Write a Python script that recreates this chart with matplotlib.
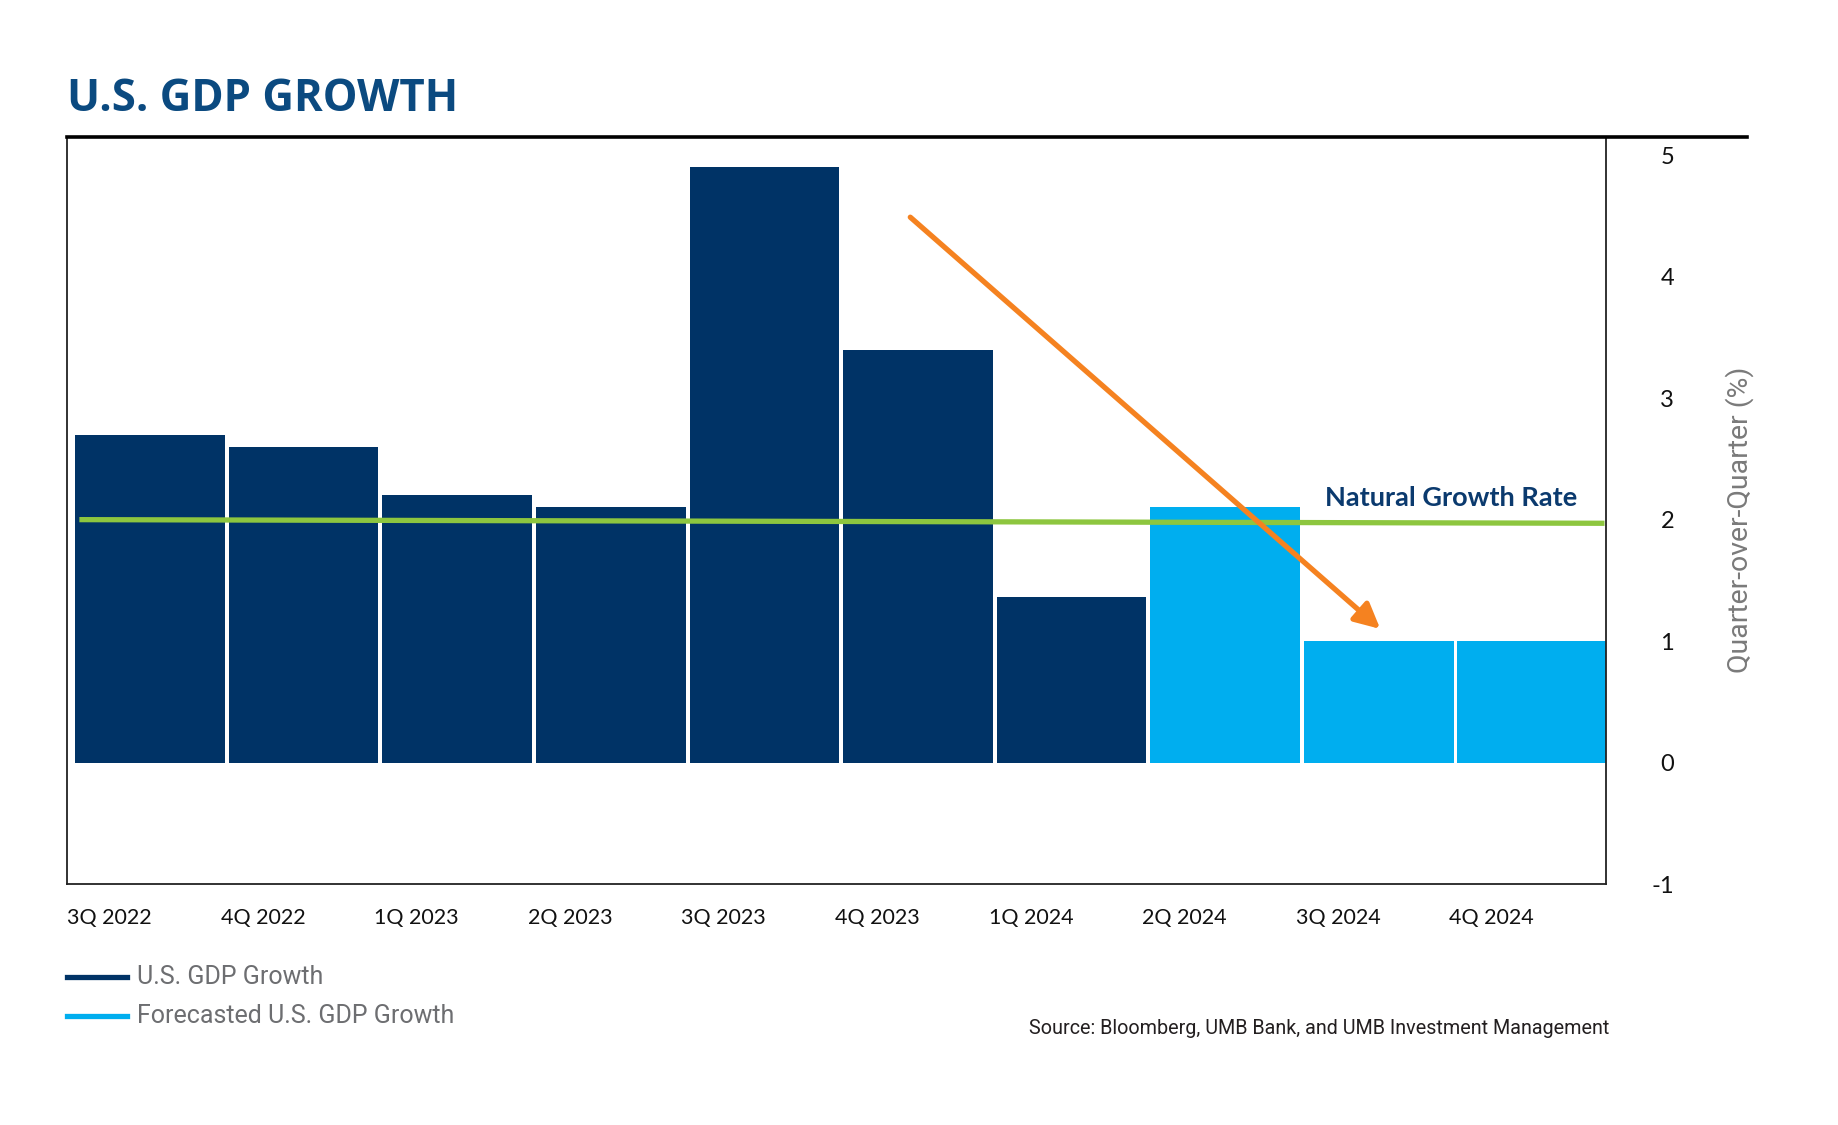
import matplotlib
matplotlib.use("Agg")
import matplotlib.pyplot as plt
import numpy as np
from matplotlib.lines import Line2D

# ---- data ----
quarters = ["3Q 2022", "4Q 2022", "1Q 2023", "2Q 2023", "3Q 2023",
            "4Q 2023", "1Q 2024", "2Q 2024", "3Q 2024", "4Q 2024"]
gdp_growth = [2.7, 2.6, 2.2, 2.1, 4.9, 3.4, 1.36, 2.1, 1.0, 1.0]
is_forecast = [False, False, False, False, False, False, False, True, True, True]
natural_rate = [2.0, 1.97]   # start / end of the natural growth rate line
y_ticks = [-1, 0, 1, 2, 3, 4, 5]

NAVY = "#003366"
LIGHT = "#00AEEF"
GREEN = "#8DC63F"
ORANGE = "#F58220"
TITLE_C = "#0B4A80"
GRAY = "#6D6E71"

fig = plt.figure(figsize=(18.38, 11.25), dpi=100)
ax = fig.add_axes([0.0365, 0.2142, 0.8373, 0.664])

x = np.arange(len(quarters))
colors = [LIGHT if f else NAVY for f in is_forecast]
ax.bar(x, gdp_growth, width=0.975, color=colors, edgecolor="none", zorder=2)

ax.set_xlim(-0.517, 9.48)
ax.set_ylim(-1.0, 5.15)

# natural growth rate line
ax.plot([x[0] - 0.46, x[-1] + 0.47], natural_rate, color=GREEN, lw=3.8,
        solid_capstyle="butt", zorder=3)
ax.text(8.47, 2.18, "Natural Growth Rate", color="#0B3A6E", fontsize=19.5,
        fontfamily="Lato", fontweight="bold", ha="center", va="center", zorder=4)

# orange trend arrow
ax.annotate("", xy=(8.01, 1.10), xytext=(4.95, 4.49),
            arrowprops=dict(arrowstyle="-|>", color=ORANGE, lw=3.8,
                            mutation_scale=38, shrinkA=0, shrinkB=0),
            zorder=5)

# axes styling
for s in ["left", "bottom", "right"]:
    ax.spines[s].set_color("#222222")
    ax.spines[s].set_linewidth(1.3)
ax.spines["top"].set_visible(False)

ax.yaxis.tick_right()
ax.set_yticks(y_ticks)
ax.set_yticklabels([str(v) for v in y_ticks], fontsize=17, fontfamily="Lato",
                   color="#111111")
for lab in ax.get_yticklabels():
    lab.set_horizontalalignment("right")
ax.tick_params(axis="y", length=0, pad=49)

ax.set_xticks(x - 0.54)
ax.set_xticklabels(quarters, fontsize=15.5, fontfamily="Lato", color="#111111",
                   ha="left")
ax.tick_params(axis="x", length=0, pad=17)

ax.yaxis.set_label_position("right")
ax.set_ylabel("Quarter-over-Quarter (%)", fontsize=20.5, fontfamily="Roboto",
              fontweight="normal", color="#7A7A7A")
ax.yaxis.set_label_coords(1.0777, 0.488)

# thick top rule extending past the axes
fig.add_artist(Line2D([0.0365, 0.9505], [0.8782, 0.8782], color="black",
                      lw=2.6, transform=fig.transFigure))

# title
fig.text(0.0365, 0.901, "U.S. GDP GROWTH", fontsize=31.5, fontweight="bold",
         fontfamily="Open Sans", color=TITLE_C, ha="left", va="baseline")

# legend
legend_items = [("U.S. GDP Growth", NAVY, 0.132),
                ("Forecasted U.S. GDP Growth", LIGHT, 0.0966)]
for label, col, yy in legend_items:
    fig.add_artist(Line2D([0.0365, 0.0691], [yy, yy], color=col, lw=3.8,
                          transform=fig.transFigure))
    fig.text(0.0745, yy, label, fontsize=18, fontfamily="Roboto",
             fontweight="normal", color=GRAY, ha="left", va="center")

# source
fig.text(0.8754, 0.0862, "Source: Bloomberg, UMB Bank, and UMB Investment Management",
         fontsize=14.2, fontfamily="Roboto", fontweight="normal", color="#231F20",
         ha="right", va="center")

fig.savefig("out.png", dpi=100, facecolor="white")
